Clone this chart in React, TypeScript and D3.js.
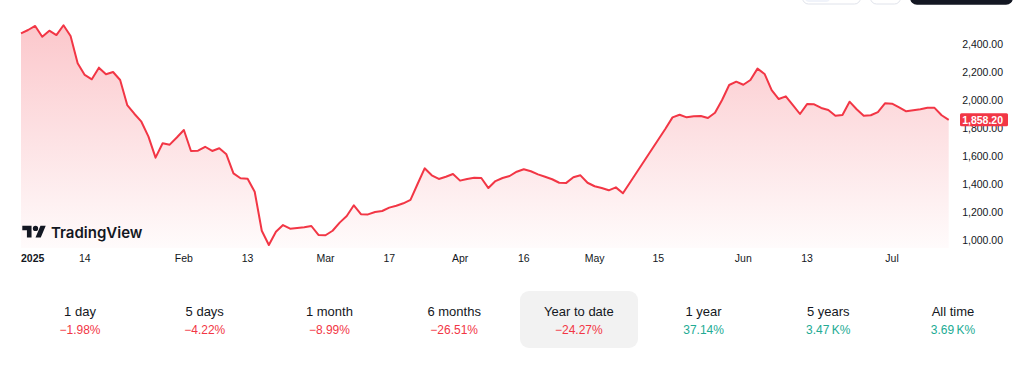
import React from 'react';
import * as d3 from 'd3';

// Daily closes, Jan 1 2025 -> mid July (one entry per trading session)
const closes = [
  2476, 2500, 2529, 2452, 2495, 2464, 2534, 2457, 2262, 2179,
  2148, 2231, 2184, 2200, 2143, 1964, 1902, 1845, 1738, 1588,
  1691, 1681, 1732, 1786, 1636, 1638, 1666, 1636, 1655, 1612,
  1476, 1441, 1438, 1345, 1066, 964, 1059, 1107, 1081, 1086,
  1091, 1100, 1036, 1034, 1066, 1124, 1171, 1248, 1184, 1183,
  1200, 1207, 1231, 1245, 1262, 1286, 1400, 1512, 1462, 1436,
  1452, 1471, 1424, 1436, 1445, 1443, 1371, 1421, 1443, 1457,
  1488, 1505, 1491, 1469, 1452, 1434, 1409, 1408, 1448, 1462,
  1409, 1384, 1371, 1355, 1376, 1334, 1411, 1487, 1564, 1641,
  1718, 1795, 1876, 1895, 1876, 1884, 1886, 1871, 1909, 2000,
  2107, 2131, 2109, 2143, 2224, 2186, 2071, 2007, 2026, 1964,
  1900, 1971, 1969, 1943, 1929, 1888, 1893, 1988, 1934, 1888,
  1891, 1914, 1976, 1974, 1948, 1919, 1926, 1934, 1945, 1944,
  1891, 1858.2,
];

const tickLabels = ['2025', '14', 'Feb', '13', 'Mar', '17', 'Apr', '16', 'May', '15', 'Jun', '13', 'Jul'];
const tickIndex = [0, 9, 23, 32, 43, 52, 62, 71, 81, 90, 102, 111, 123];

const priceTicks = [1000, 1200, 1400, 1600, 1800, 2000, 2200, 2400];

const periodLabels = ['1 day', '5 days', '1 month', '6 months', 'Year to date', '1 year', '5 years', 'All time'];
const periodValues = ['\u22121.98%', '\u22124.22%', '\u22128.99%', '\u221226.51%', '\u221224.27%', '37.14%', '3.47\u202FK%', '3.69\u202FK%'];

const RED = '#f23645';
const TEAL = '#22ab94';
const TEXT = '#131722';
const FONT = '"Liberation Sans", Arial, sans-serif';

const fmt = d3.format(',.2f');

const App: React.FC = () => {
  const width = 1024;
  const height = 371;

  const x = d3.scaleLinear().domain([0, closes.length - 1]).range([21, 948.7]);
  const y = d3.scaleLinear().domain([1000, 2400]).range([240, 44]);
  const bottom = 248;

  const line = d3.line<number>()
    .x((_, i) => x(i))
    .y(d => y(d));

  const area = d3.area<number>()
    .x((_, i) => x(i))
    .y0(bottom)
    .y1(d => y(d));

  const last = closes[closes.length - 1];

  const cols = d3.scalePoint<string>()
    .domain(periodLabels)
    .range([80, 953]);

  return (
    <svg
      width={width}
      height={height}
      style={{ position: 'absolute', left: 0, top: 0, background: '#fff', fontFamily: FONT }}
    >
      <defs>
        <linearGradient id="fillGrad" gradientUnits="userSpaceOnUse" x1="0" y1="22" x2="0" y2={bottom}>
          <stop offset="0" stopColor={RED} stopOpacity={0.28} />
          <stop offset="1" stopColor={RED} stopOpacity={0.02} />
        </linearGradient>
      </defs>

      {/* toolbar buttons cut off at the top */}
      <rect x={802.5} y={-20} width={58} height={24} rx={6} fill="#fff" stroke="#e0e3eb" />
      <rect x={805} y={-20} width={25} height={22} rx={4} fill="#f0f3fa" />
      <rect x={870.5} y={-20} width={30} height={24} rx={6} fill="#fff" stroke="#e0e3eb" />
      <rect x={910} y={-20} width={103} height={24.7} rx={7} fill="#131722" />

      <path d={area(closes) || ''} fill="url(#fillGrad)" />
      <path d={line(closes) || ''} fill="none" stroke={RED} strokeWidth={2} strokeLinejoin="round" />

      {/* price scale */}
      {priceTicks.map(t => (
        <text key={t} x={1003} y={y(t)} dy="0.35em" textAnchor="end" fontSize={10.5} fill={TEXT}>
          {fmt(t)}
        </text>
      ))}
      <rect x={960} y={y(last) - 6.5} width={48} height={13} rx={1.5} fill={RED} />
      <text x={1003} y={y(last)} dy="0.35em" textAnchor="end" fontSize={10.5} fill="#fff" fontWeight={600}>
        {fmt(last)}
      </text>

      {/* time scale */}
      {tickLabels.map((l, i) => (
        <text
          key={i}
          x={x(tickIndex[i])}
          y={258}
          dy="0.35em"
          textAnchor={i === 0 ? 'start' : 'middle'}
          fontSize={10.5}
          fontWeight={i === 0 ? 700 : 400}
          fill={TEXT}
        >
          {l}
        </text>
      ))}

      {/* watermark */}
      <g transform="translate(22.3,223.1) scale(0.66)" fill={TEXT}>
        <path d="M14 22H7V11H0V4h14v18zM28 22h-8l7.5-18h8L28 22z" />
        <circle cx={20} cy={8} r={4} />
      </g>
      <text x={51} y={237.5} fontSize={15} fontWeight={600} fill={TEXT} fontFamily='Inter, "Liberation Sans", sans-serif'>
        TradingView
      </text>

      {/* performance row */}
      <rect x={520} y={291} width={118} height={57} rx={9} fill="#f2f2f2" />
      {periodLabels.map((l, i) => (
        <g key={l} transform={`translate(${cols(l)},0)`}>
          <text y={311} dy="0.35em" textAnchor="middle" fontSize={13} fill={TEXT}>{l}</text>
          <text
            y={329.5}
            dy="0.35em"
            textAnchor="middle"
            fontSize={12}
            fill={periodValues[i].startsWith('\u2212') ? RED : TEAL}
          >
            {periodValues[i]}
          </text>
        </g>
      ))}
    </svg>
  );
};

export default App;
